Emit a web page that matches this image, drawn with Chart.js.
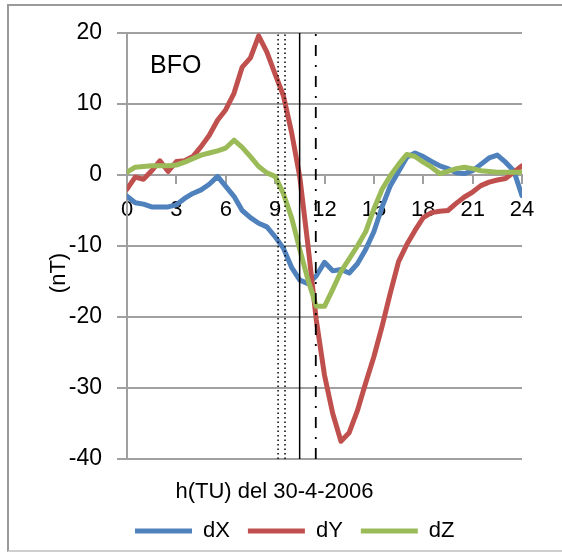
<!DOCTYPE html>
<html><head><meta charset="utf-8">
<script src="https://cdn.jsdelivr.net/npm/chart.js@4.4.1/dist/chart.umd.min.js"></script>
<style>
html,body{margin:0;padding:0;background:#fff;}
#wrap{position:relative;width:562px;height:552px;overflow:hidden;}
#frame{position:absolute;left:7px;top:4px;width:620px;height:548px;border-top:2px solid #9a9a9a;border-left:2px solid #9a9a9a;border-bottom:2px solid #cfcfcf;box-sizing:border-box;}
canvas{position:absolute;left:0;top:0;}
</style></head>
<body><div id="wrap"><div id="frame"></div><canvas id="c" width="562" height="552"></canvas></div>
<script>
const hours = [0,0.5,1,1.5,2,2.5,3,3.5,4,4.5,5,5.5,6,6.5,7,7.5,8,8.5,9,9.5,10,10.5,11,11.5,12,12.5,13,13.5,14,14.5,15,15.5,16,16.5,17,17.5,18,18.5,19,19.5,20,20.5,21,21.5,22,22.5,23,23.5,24];
const dX = [-3,-3.9,-4.1,-4.5,-4.5,-4.5,-4.2,-3.3,-2.6,-2.1,-1.3,-0.2,-1.6,-3.0,-5.0,-6.0,-6.8,-7.3,-8.7,-10.3,-13,-14.8,-15.3,-14.2,-12.3,-13.5,-13.3,-13.8,-12.5,-10.5,-8.0,-4.5,-1.5,0.5,2.5,3.1,2.6,1.9,1.3,0.9,0.3,0.2,0.6,1.5,2.4,2.8,1.8,0.6,-2.9];
const dY = [-2,-0.3,-0.6,0.6,2.0,0.5,1.9,2.0,2.6,4.0,5.6,7.7,9.2,11.5,15.2,16.5,19.6,17.3,14.2,11.2,6.0,-0.3,-10,-20.4,-28.2,-33.6,-37.5,-36.3,-33.2,-29.3,-25.6,-21.3,-16.6,-12.2,-9.8,-7.8,-6.0,-5.3,-5.1,-5.0,-4.0,-3.1,-2.4,-1.5,-1.0,-0.7,-0.5,0.4,1.3];
const dZ = [0.4,1.1,1.2,1.3,1.3,1.3,1.4,1.8,2.3,2.8,3.1,3.4,3.8,4.9,3.9,2.6,1.2,0.3,-0.2,-2.6,-6,-10.5,-14.8,-18.5,-18.5,-16.1,-13.6,-11.8,-10,-8,-4.8,-2.0,-0.1,1.5,2.9,2.6,1.8,1.1,0.2,0.5,0.9,1.1,0.9,0.6,0.5,0.4,0.4,0.4,0.4];
const seriesNames = ['dX','dY','dZ'];
const xTickValues = [0,3,6,9,12,15,18,21,24];
const yTickValues = [-40,-30,-20,-10,0,10,20];
const eventHours = [9.18, 9.6, 10.49, 11.47];
const stationLabel = 'BFO';
const stationLabelAt = [1.4, 14.3];
const xTitle = 'h(TU) del 30-4-2006';
const yTitle = '(nT)';

const FONT = '"Liberation Sans", Arial, sans-serif';
const colors = ['#4F81BD','#C0504D','#9BBB59'];
const eventStyles = [
  {color:'#000', width:1.5, dash:[1.5,3]},
  {color:'#000', width:1.5, dash:[1.5,3]},
  {color:'#000', width:1.5, dash:[]},
  {color:'#000', width:1.8, dash:[11,9,2,9]}
];
const yMin = yTickValues[0], yMax = yTickValues[yTickValues.length-1];

const seriesValues = [dX, dY, dZ];
const datasets = seriesNames.map((name, i) => ({
  label: name,
  data: hours.map((h, k) => ({x: h, y: seriesValues[i][k]})),
  borderColor: colors[i],
  backgroundColor: colors[i],
  borderWidth: 5,
  pointRadius: 0,
  tension: 0,
  borderJoinStyle: 'round',
  borderCapStyle: 'round',
  order: 3 - i
}));
eventHours.forEach((h, i) => {
  datasets.push({
    label: 'event' + i,
    data: [{x: h, y: yMin}, {x: h, y: yMax}],
    borderColor: eventStyles[i].color,
    borderWidth: eventStyles[i].width,
    borderDash: eventStyles[i].dash,
    pointRadius: 0,
    order: 0
  });
});

const textPlugin = {
  id: 'texts',
  afterLayout(chart) {
    // legend starts slightly left of the plot area, as in the reference
    chart.legend.left -= 10;
  },
  afterDraw(chart) {
    const {ctx, scales: {x, y}} = chart;
    ctx.save();
    ctx.fillStyle = '#000';
    ctx.font = '25px ' + FONT;
    ctx.textAlign = 'left';
    ctx.textBaseline = 'alphabetic';
    ctx.fillText(stationLabel, x.getPixelForValue(stationLabelAt[0]), y.getPixelForValue(stationLabelAt[1]));
    ctx.font = '22px ' + FONT;
    ctx.translate(59, 273);
    ctx.rotate(-Math.PI / 2);
    ctx.textAlign = 'center';
    ctx.textBaseline = 'middle';
    ctx.fillText(yTitle, 0, 0);
    ctx.restore();
  }
};

const chart = new Chart(document.getElementById('c'), {
  type: 'line',
  data: {datasets},
  plugins: [textPlugin],
  options: {
    responsive: false,
    animation: false,
    events: [],
    layout: {padding: {left: 0, right: 13, top: 33, bottom: 0}},
    plugins: {
      tooltip: {enabled: false},
      title: {
        display: true, text: xTitle, position: 'bottom', weight: 500,
        color: '#000', font: {family: FONT, size: 22, weight: 'normal'},
        padding: {top: 19.5, bottom: -2.9}
      },
      legend: {
        display: true, position: 'bottom', align: 'start', fullSize: false, weight: 1000,
        labels: {
          color: '#000', font: {family: FONT, size: 22},
          usePointStyle: true, pointStyle: 'line', pointStyleWidth: 57,
          padding: 18,
          filter: (item) => item.datasetIndex < 3,
          sort: (a, b) => a.datasetIndex - b.datasetIndex
        }
      }
    },
    scales: {
      x: {
        type: 'linear', position: {y: 0}, min: 0, max: 24,
        afterBuildTicks: (s) => { s.ticks = xTickValues.map(v => ({value: v})); },
        ticks: {color: '#000', font: {family: FONT, size: 22}, padding: 14, maxRotation: 0, autoSkip: false},
        grid: {display: true, drawOnChartArea: false, drawTicks: true, tickLength: 8, color: '#a0a0a0', lineWidth: 2},
        border: {display: true, color: '#a0a0a0', width: 2}
      },
      y: {
        type: 'linear', position: 'left', min: yMin, max: yMax,
        afterBuildTicks: (s) => { s.ticks = yTickValues.map(v => ({value: v})); },
        afterFit: (s) => { s.width = 127; },
        ticks: {color: '#000', font: {family: FONT, size: 23}, padding: 15},
        grid: {color: '#a0a0a0', lineWidth: 2, tickLength: 10, drawTicks: true},
        border: {display: true, color: '#a0a0a0', width: 2}
      },
      y2: {
        type: 'linear', position: 'right', display: true,
        ticks: {display: false}, grid: {display: false}, border: {display: false},
        afterFit: (s) => { s.width = 27; }
      }
    }
  }
});
</script>
</body></html>
